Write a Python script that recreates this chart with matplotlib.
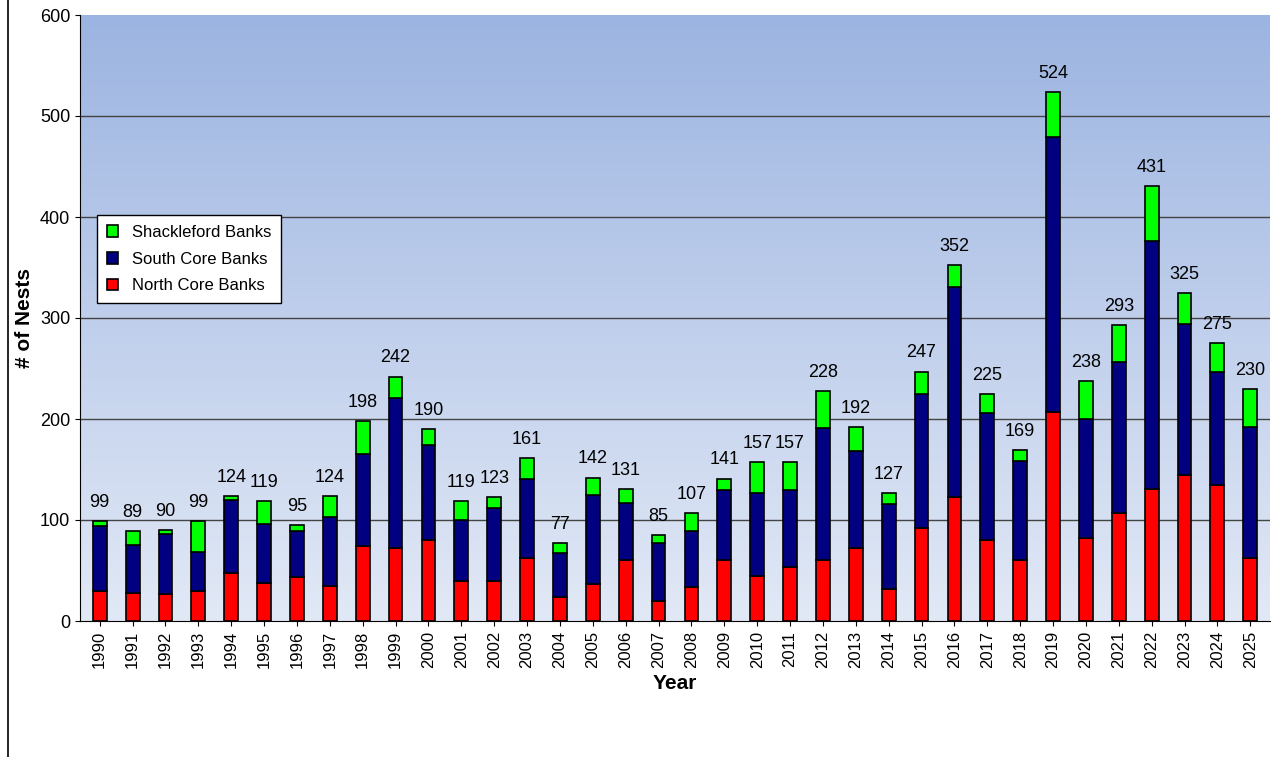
import numpy as np
import matplotlib
matplotlib.use("Agg")
import matplotlib.pyplot as plt

plt.rcParams["font.family"] = ["Liberation Sans", "DejaVu Sans"]

years = list(range(1990, 2026))
north = [30, 28, 27, 30, 48, 38, 44, 35, 74, 72, 80, 40, 40, 62, 24, 37, 60, 20, 34, 60,
         45, 53, 60, 72, 32, 92, 123, 80, 60, 207, 82, 107, 131, 145, 135, 62]
north_south = [94, 75, 86, 68, 120, 96, 89, 103, 165, 221, 174, 100, 112, 141, 67, 125, 117, 77, 89, 130,
               127, 130, 191, 168, 116, 225, 331, 206, 158, 479, 200, 256, 376, 294, 247, 192]
totals = [99, 89, 90, 99, 124, 119, 95, 124, 198, 242, 190, 119, 123, 161, 77, 142, 131, 85, 107, 141,
          157, 157, 228, 192, 127, 247, 352, 225, 169, 524, 238, 293, 431, 325, 275, 230]

north = np.array(north)
south = np.array(north_south) - north
shack = np.array(totals) - np.array(north_south)

fig = plt.figure(figsize=(12.84, 7.57), dpi=100)
ax = fig.add_axes([80 / 1284, 1 - 621 / 757, 1190 / 1284, 606 / 757])

x = np.arange(len(years))
# gradient background
grad = np.linspace(0, 1, 256).reshape(-1, 1)
cmap = matplotlib.colors.LinearSegmentedColormap.from_list("bg", ["#e2e9f6", "#9cb4e1"])
ax.imshow(grad, aspect="auto", cmap=cmap, origin="lower",
          extent=[-0.6, len(years) - 0.4, 0, 600], zorder=0)

for yv in range(100, 600, 100):
    ax.axhline(yv, color="#444444", lw=1, zorder=1)

w = 0.42
kw = dict(width=w, edgecolor="black", linewidth=1.2, zorder=3)
b1 = ax.bar(x, north, color="#ff0000", label="North Core Banks", **kw)
b2 = ax.bar(x, south, bottom=north, color="#000080", label="South Core Banks", **kw)
b3 = ax.bar(x, shack, bottom=north + south, color="#00ff00", label="Shackleford Banks", **kw)

for xi, t in zip(x, totals):
    ax.text(xi, t + 10, str(t), ha="center", va="bottom", fontsize=13)

ax.set_xlim(-0.6, len(years) - 0.4)
ax.set_ylim(0, 600)
ax.set_xticks(x)
ax.set_xticklabels([str(y) for y in years], rotation=90, fontsize=12)
ax.set_yticks(range(0, 601, 100))
ax.tick_params(axis="y", labelsize=13)
ax.set_xlabel("Year", fontsize=15, fontweight="bold")
ax.set_ylabel("# of Nests", fontsize=15, fontweight="bold")
for s in ["top", "right"]:
    ax.spines[s].set_visible(False)

leg = ax.legend(handles=[b3, b2, b1], loc="upper left", bbox_to_anchor=(0.014, 0.67),
                fontsize=12, frameon=True, fancybox=False, edgecolor="black",
                handlelength=0.7, handleheight=0.7, borderpad=0.6, labelspacing=0.7,
                borderaxespad=0)
leg.get_frame().set_facecolor("white")
leg.get_frame().set_alpha(1)

fig.add_artist(plt.Line2D([8 / 1284, 8 / 1284], [0, 1], color="black", lw=1.2))

fig.savefig("out.png", dpi=100)
